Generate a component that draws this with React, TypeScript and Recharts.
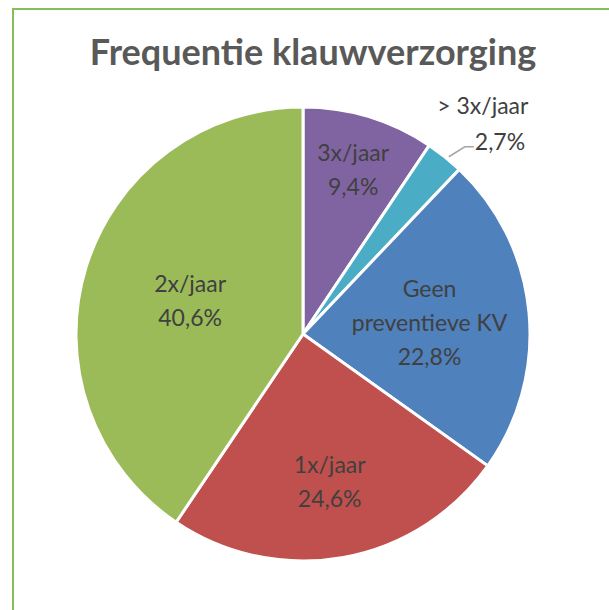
import React from "react";
import { PieChart, Pie, Cell } from "recharts";

// slices in clockwise order from 12 o'clock
const categories = ["3x/jaar", "> 3x/jaar", "Geen preventieve KV", "1x/jaar", "2x/jaar"];
const shares = [9.4, 2.7, 22.8, 24.6, 40.6];
const sliceColors = ["#8064a2", "#4bacc6", "#4f81bd", "#c0504d", "#9bbb59"];

const data = categories.map((name, i) => ({ name, value: shares[i] }));

const RAD = Math.PI / 180;
// how far out each label sits (fraction of radius), like excel's best fit
const labelRadius = [0.76, 1.0, 0.56, 0.66, 0.52];

const fmt = (v: number) => v.toFixed(1).replace(".", ",") + "%";

const renderLabel = (props: any) => {
    const { cx, cy, midAngle, outerRadius, index, name, value } = props;
    const cos = Math.cos(-midAngle * RAD);
    const sin = Math.sin(-midAngle * RAD);
    const style = { fontFamily: "Lato, 'Open Sans', sans-serif", fontSize: 23, fill: "#404040" };

    if (index === 1) {
        // small slice: label outside with a leader line
        const sx = cx + outerRadius * cos;
        const sy = cy + outerRadius * sin;
        const mx = sx + 20;
        const my = sy - 10;
        return (
            <g>
                <polyline points={`${sx + 4},${sy} ${mx},${my} ${mx + 9},${my}`} fill="none" stroke="#a6a6a6" strokeWidth={1.5} />
                <text x={mx + 18} y={my - 42} textAnchor="middle" dominantBaseline="central" style={style}>{name}</text>
                <text x={mx + 10} y={my - 6} textAnchor="start" dominantBaseline="central" style={style}>{fmt(value)}</text>
            </g>
        );
    }

    const r = outerRadius * labelRadius[index];
    const x = cx + r * cos;
    const y = cy + r * sin;
    let lines = [name, fmt(value)];
    if (name.length > 12) {
        const sp = name.indexOf(" ");
        lines = [name.slice(0, sp), name.slice(sp + 1), fmt(value)];
    }
    const lh = 34;
    const top = y - ((lines.length - 1) * lh) / 2;
    return (
        <text x={x} y={top} textAnchor="middle" dominantBaseline="central" style={style}>
            {lines.map((l, i) => (
                <tspan key={i} x={x} y={top + i * lh}>{l}</tspan>
            ))}
        </text>
    );
};

export default function App() {
    return (
        <div style={{ position: "absolute", left: 0, top: 0, width: 609, height: 610, background: "#fff", overflow: "hidden" }}>
            <div style={{ position: "absolute", left: 12, top: 8, width: 620, height: 620, border: "2px solid #84bd5a", boxSizing: "border-box" }} />
            <div style={{ position: "absolute", left: 12, top: 29, width: 602, textAlign: "center", fontFamily: "Lato, 'Open Sans', sans-serif", fontWeight: "bold", fontSize: 36, color: "#595959" }}>
                Frequentie klauwverzorging
            </div>
            <div style={{ position: "absolute", left: 0, top: 0 }}>
                <PieChart width={609} height={610} margin={{ top: 0, right: 0, bottom: 0, left: 0 }}>
                    <Pie
                        data={data}
                        dataKey="value"
                        nameKey="name"
                        cx={303}
                        cy={334}
                        outerRadius={227}
                        startAngle={90}
                        endAngle={-270}
                        stroke="#ffffff"
                        strokeWidth={3}
                        label={renderLabel}
                        labelLine={false}
                        isAnimationActive={false}
                    >
                        {data.map((d, i) => (
                            <Cell key={d.name} fill={sliceColors[i]} />
                        ))}
                    </Pie>
                </PieChart>
            </div>
        </div>
    );
}
